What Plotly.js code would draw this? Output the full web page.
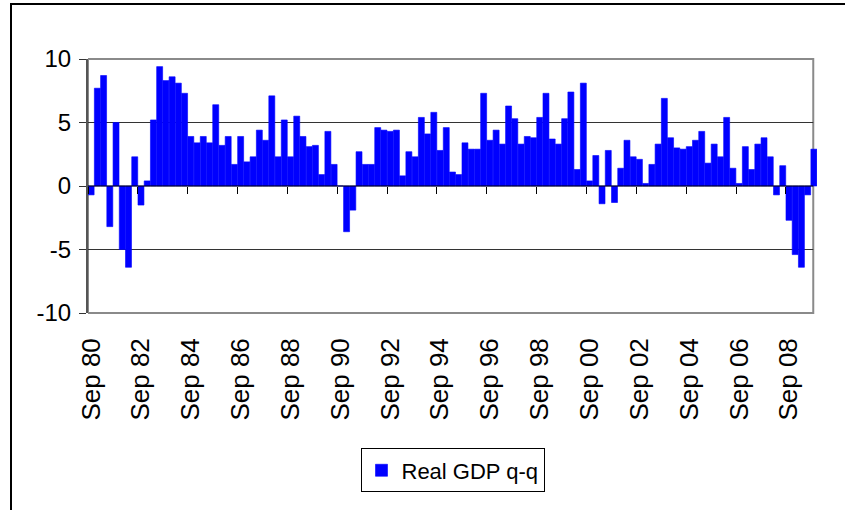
<!DOCTYPE html>
<html>
<head>
<meta charset="utf-8">
<script src="https://cdn.plot.ly/plotly-3.0.1.min.js"></script>
<style>
  html, body { margin: 0; padding: 0; background: #fff; }
  #wrap { position: relative; width: 845px; height: 510px; }
  #chart { width: 845px; height: 510px; }
  #frame { position: absolute; left: 10px; top: 3px; width: 835px; height: 507px;
           border-top: 2px solid #000; border-left: 2px solid #000; box-sizing: border-box;
           pointer-events: none; }
</style>
</head>
<body>
<div id="wrap">
  <div id="chart"></div>
  <div id="frame"></div>
</div>
<script>
// Quarter-end months and years covered (Sep 1980 .. Sep 2009)
const quarterMonths = ["Mar", "Jun", "Sep", "Dec"];
const firstYear = 1980, firstQuarter = 2;   // Sep 1980
const seriesName = "Real GDP q-q";

// Real GDP q-q growth (annualised %), one value per quarter
const gdp1980s = [-0.7, 7.7,
  8.7, -3.2, 5.0, -5.0,
  -6.4, 2.3, -1.5, 0.4,
  5.2, 9.4, 8.3, 8.6,
  8.1, 7.3, 3.9, 3.4,
  3.9, 3.4, 6.4, 3.2,
  3.9, 1.7, 3.9, 1.9,
  2.3, 4.4, 3.6, 7.1,
  2.3, 5.2, 2.3, 5.5,
  3.9, 3.1, 3.2, 0.9];
const gdp1990s = [4.3, 1.7, 0.0, -3.6,
  -1.9, 2.7, 1.7, 1.7,
  4.6, 4.4, 4.3, 4.4,
  0.8, 2.7, 2.3, 5.4,
  4.1, 5.8, 2.8, 4.6,
  1.1, 0.9, 3.4, 2.9,
  2.9, 7.3, 3.6, 4.4,
  3.3, 6.3, 5.3, 3.3,
  3.9, 3.8, 5.4, 7.3,
  3.7, 3.3, 5.3, 7.4];
const gdp2000s = [1.3, 8.1, 0.4, 2.4,
  -1.4, 2.8, -1.3, 1.4,
  3.6, 2.3, 2.1, 0.2,
  1.7, 3.3, 6.9, 3.8,
  3.0, 2.9, 3.1, 3.6,
  4.3, 1.8, 3.3, 2.3,
  5.4, 1.4, 0.2, 3.1,
  1.3, 3.3, 3.8, 2.3,
  -0.7, 1.6, -2.7, -5.4,
  -6.4, -0.7, 2.9];

const values = gdp1980s.concat(gdp1990s, gdp2000s);

// Category labels, e.g. "Sep 80", "Dec 80", ...
const categories = values.map((v, i) => {
  const q = firstQuarter + i;
  const yr = firstYear + Math.floor(q / 4);
  return quarterMonths[q % 4] + " " + String(yr % 100).padStart(2, "0");
});
const labelEvery = 8;
const tickCats = categories.filter((c, i) => i % labelEvery === 0);

const yTicks = [-10, -5, 0, 5, 10];
const yGrid = [-5, 5];

const font = "Arial, 'Liberation Sans', sans-serif";
const xRange = [-0.5, values.length - 0.5];
// the plot frame stops a little short of the last bar, as in the original
const frameRight = values.length - 1.1;

const traces = [{
  type: "bar",
  x: categories,
  y: values,
  name: seriesName,
  marker: { color: "#0000FF", line: { width: 0.6, color: "#0000FF" } },
  hoverinfo: "skip"
}];

const gridShapes = yGrid.map(v => ({
  type: "line", xref: "x2", yref: "y",
  x0: xRange[0], x1: frameRight, y0: v, y1: v,
  line: { color: "#333", width: 1 }, layer: "below"
}));

const layout = {
  width: 845,
  height: 510,
  margin: { l: 88, r: 28, t: 59, b: 197 },
  paper_bgcolor: "#ffffff",
  plot_bgcolor: "#ffffff",
  font: { family: font, color: "#000" },
  bargap: 0.04,
  showlegend: true,
  legend: {
    x: 0.5, xanchor: "center",
    y: -0.62, yanchor: "middle",
    bordercolor: "#000", borderwidth: 1,
    font: { size: 22, family: font, color: "#000" },
    bgcolor: "#fff"
  },
  xaxis: {
    type: "category",
    range: xRange,
    tickmode: "array",
    tickvals: tickCats,
    ticktext: tickCats,
    tickangle: -90,
    ticks: "",
    ticklabelstandoff: 19,
    tickfont: { size: 26, family: font, color: "#000" },
    showgrid: false,
    zeroline: false,
    showline: false,
    fixedrange: true
  },
  xaxis2: {
    type: "linear",
    overlaying: "x",
    anchor: "free",
    position: 0.5,
    range: xRange,
    tickmode: "linear",
    tick0: -0.5,
    dtick: labelEvery,
    ticks: "outside",
    ticklen: 7,
    tickwidth: 1,
    tickcolor: "#000",
    showticklabels: false,
    showgrid: false,
    zeroline: false,
    showline: false,
    fixedrange: true
  },
  yaxis: {
    range: [-10, 10],
    tickmode: "array",
    tickvals: yTicks,
    ticktext: yTicks.map(String),
    ticks: "outside",
    ticklen: 7,
    tickcolor: "#333",
    tickwidth: 1,
    ticklabelstandoff: 3,
    tickfont: { size: 24, family: font, color: "#000" },
    showgrid: false,
    zeroline: false,
    showline: true,
    linecolor: "#555",
    linewidth: 2,
    fixedrange: true
  },
  shapes: gridShapes.concat([
    {
      type: "line", xref: "x2", yref: "y",
      x0: xRange[0], x1: frameRight, y0: 0, y1: 0,
      line: { color: "#000", width: 1 }, layer: "above"
    },
    {
      type: "rect", xref: "x2", yref: "paper",
      x0: xRange[0], x1: frameRight, y0: 0, y1: 1,
      line: { color: "#8a8a8a", width: 2 },
      fillcolor: "rgba(0,0,0,0)",
      layer: "below"
    }
  ])
};

Plotly.newPlot("chart", traces, layout, { displayModeBar: false, staticPlot: true });
</script>
</body>
</html>
